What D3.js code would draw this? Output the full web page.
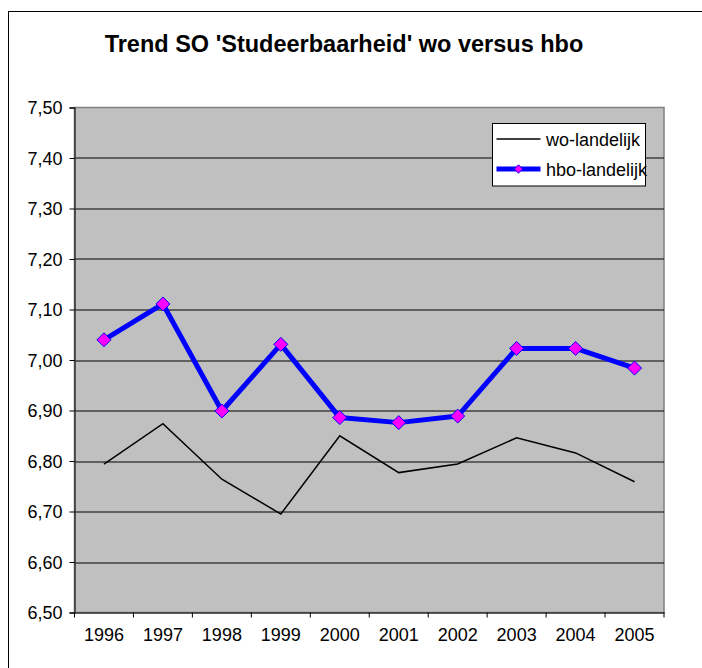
<!DOCTYPE html>
<html>
<head>
<meta charset="utf-8">
<script src="https://cdn.jsdelivr.net/npm/d3@7"></script>
<style>
  html, body { margin: 0; padding: 0; background: #fff; overflow: hidden; }
  svg { display: block; font-family: Arial, "Liberation Sans", sans-serif; }
</style>
</head>
<body>
<div id="chart"></div>
<script>
// data
const years = ['1996', '1997', '1998', '1999', '2000', '2001', '2002', '2003', '2004', '2005'];
const woValues = [6.794, 6.874, 6.764, 6.695, 6.850, 6.777, 6.794, 6.846, 6.816, 6.759];
const hboValues = [7.040, 7.111, 6.899, 7.031, 6.886, 6.876, 6.889, 7.023, 7.023, 6.984];
const yTicks = [6.5, 6.6, 6.7, 6.8, 6.9, 7.0, 7.1, 7.2, 7.3, 7.4, 7.5];
const seriesNames = ['wo-landelijk', 'hbo-landelijk'];
const title = "Trend SO 'Studeerbaarheid' wo versus hbo";

const W = 702, H = 668;
const margin = { top: 107.5, right: 38, bottom: 55.5, left: 74.5 };
const width = W - margin.left - margin.right;
const height = H - margin.top - margin.bottom;

const nl = d3.formatLocale({ decimal: ',', thousands: '.', grouping: [3], currency: ['€', ''] });
const fmt = nl.format('.2f');

const svg = d3.select('#chart')
  .append('svg')
  .attr('width', W)
  .attr('height', H);

// outer chart border (runs off the right and bottom of the picture)
svg.append('rect')
  .attr('x', 8.5).attr('y', 11.5)
  .attr('width', 760).attr('height', 720)
  .attr('fill', '#fff')
  .attr('stroke', '#000')
  .attr('stroke-width', 1);

svg.append('text')
  .attr('x', 344)
  .attr('y', 52)
  .attr('text-anchor', 'middle')
  .style('font-size', '23.5px')
  .style('font-weight', 'bold')
  .text(title);

const g = svg.append('g')
  .attr('transform', `translate(${margin.left},${margin.top})`);

const x = d3.scaleBand().domain(years).range([0, width]).paddingInner(0).paddingOuter(0);
const y = d3.scaleLinear().domain([6.5, 7.5]).range([height, 0]);
const cx = d => x(d) + x.bandwidth() / 2;

// plot area
g.append('rect')
  .attr('width', width)
  .attr('height', height)
  .attr('fill', '#c0c0c0')
  .attr('stroke', '#808080')
  .attr('stroke-width', 1.5);

// gridlines
g.selectAll('.grid')
  .data(yTicks.slice(1, -1))
  .enter()
  .append('line')
  .attr('x1', 0).attr('x2', width)
  .attr('y1', d => Math.round(y(d)) + 0.5)
  .attr('y2', d => Math.round(y(d)) + 0.5)
  .attr('stroke', '#000')
  .attr('stroke-width', 1);

// y axis
const yAxis = g.append('g')
  .call(d3.axisLeft(y).tickValues(yTicks).tickFormat(fmt).tickSize(5).tickPadding(7));
yAxis.select('.domain').attr('stroke', '#333').attr('stroke-width', 1.5);
yAxis.selectAll('.tick line').attr('stroke', '#000');
yAxis.selectAll('.tick text')
  .style('font-size', '18px')
  .attr('fill', '#000')
  .attr('dy', '0.36em');

// x axis, ticks at category boundaries
const xAxis = g.append('g')
  .attr('transform', `translate(0,${height})`)
  .call(d3.axisBottom(x).tickSize(0).tickPadding(16));
xAxis.select('.domain').attr('stroke', '#333').attr('stroke-width', 1.5);
xAxis.selectAll('.tick text')
  .style('font-size', '18px')
  .attr('fill', '#000')
  .attr('dy', '0.71em');
g.selectAll('.xtick')
  .data(years.concat(['end']))
  .enter()
  .append('line')
  .attr('x1', (d, i) => i * x.bandwidth())
  .attr('x2', (d, i) => i * x.bandwidth())
  .attr('y1', height)
  .attr('y2', height + 5)
  .attr('stroke', '#000');

const line = d3.line().x((d, i) => cx(years[i])).y(d => y(d));

// wo line
g.append('path')
  .datum(woValues)
  .attr('d', line)
  .attr('fill', 'none')
  .attr('stroke', '#000')
  .attr('stroke-width', 1.5);

// hbo line + diamond markers
g.append('path')
  .datum(hboValues)
  .attr('d', line)
  .attr('fill', 'none')
  .attr('stroke', '#0000ff')
  .attr('stroke-width', 5)
  .attr('stroke-linejoin', 'round');

const diamond = d3.symbol().type(d3.symbolDiamond2).size(125);
g.selectAll('.marker')
  .data(hboValues)
  .enter()
  .append('path')
  .attr('d', diamond)
  .attr('transform', (d, i) => `translate(${cx(years[i])},${y(d)})`)
  .attr('fill', '#ff00ff')
  .attr('stroke', '#0000ff')
  .attr('stroke-width', 1);

// legend
const legend = svg.append('g').attr('transform', 'translate(492.5,123.5)');
legend.append('rect')
  .attr('width', 153)
  .attr('height', 62.5)
  .attr('fill', '#fff')
  .attr('stroke', '#000')
  .attr('stroke-width', 1);

const items = legend.selectAll('.item')
  .data(seriesNames)
  .enter()
  .append('g')
  .attr('transform', (d, i) => `translate(0,${15.5 + i * 30})`);

items.append('line')
  .attr('x1', 4).attr('x2', 48)
  .attr('stroke', (d, i) => i === 0 ? '#000' : '#0000ff')
  .attr('stroke-width', (d, i) => i === 0 ? 1.5 : 5);

items.filter((d, i) => i === 1)
  .append('path')
  .attr('d', d3.symbol().type(d3.symbolDiamond2).size(45))
  .attr('transform', 'translate(26,0)')
  .attr('fill', '#ff00ff')
  .attr('stroke', '#0000ff')
  .attr('stroke-width', 1);

items.append('text')
  .attr('x', 53.5)
  .attr('y', 6.5)
  .style('font-size', '18px')
  .attr('fill', '#000')
  .text(d => d);
</script>
</body>
</html>
